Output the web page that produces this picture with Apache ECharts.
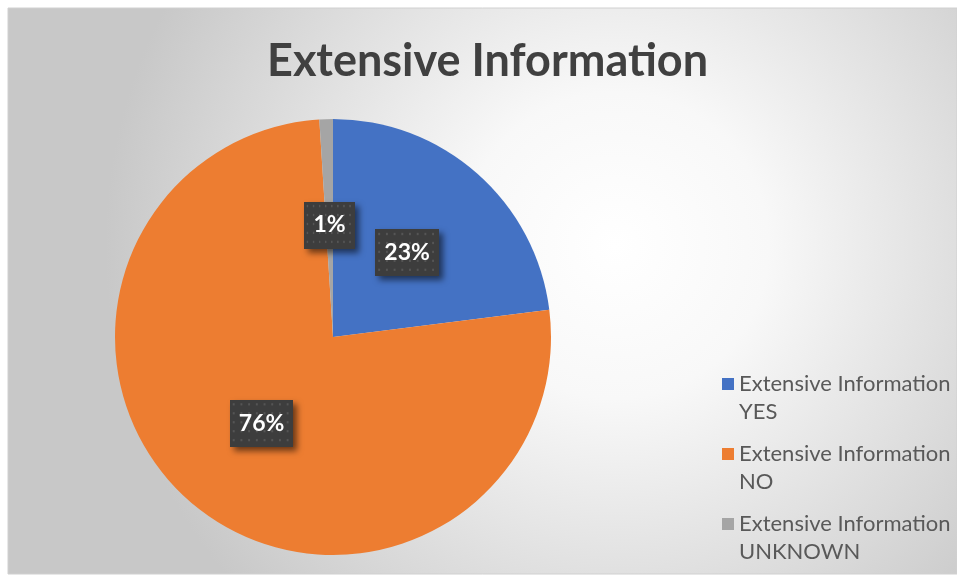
<!DOCTYPE html>
<html>
<head>
<meta charset="utf-8">
<script src="https://cdn.jsdelivr.net/npm/echarts@6/dist/echarts.min.js"></script>
<style>
  html, body { margin: 0; padding: 0; background: #ffffff; }
  #chart { position: absolute; left: 0; top: 0; width: 957px; height: 580px; }
</style>
</head>
<body>
<div id="chart"></div>
<script>
// Survey answers to "Extensive Information" (percent of responses)
const categories = ['Extensive Information YES', 'Extensive Information NO', 'Extensive Information UNKNOWN'];
const values = [23, 76, 1];
const colors = ['#4472C4', '#ED7D31', '#A5A5A5'];

// Dark dotted tile used behind the data labels
function makeLabelTile(w, h) {
  const c = document.createElement('canvas');
  c.width = w; c.height = h;
  const g = c.getContext('2d');
  g.fillStyle = '#3d3d3d';
  g.fillRect(0, 0, w, h);
  g.fillStyle = '#555555';
  for (let y = 3; y < h; y += 8) {
    for (let x = 3; x < w; x += 8) {
      g.fillRect(x, y, 2, 2);
    }
  }
  return c;
}
const tile = makeLabelTile(66, 42);

// Legend marker: a 12px square beside the first of two text lines.
// Tiny corner specks fix the icon box at 12x56 so the square stays at the top.
const legendIcon = 'path://M0,0L0.01,0L0,0.01Z M0,8L12,8L12,20L0,20Z M11.99,55.99L12,55.99L12,56Z';

const chart = echarts.init(document.getElementById('chart'), null, { renderer: 'canvas' });

chart.setOption({
  animation: false,
  graphic: [{
    type: 'rect',
    silent: true,
    z: -10,
    shape: { x: 8, y: 8, width: 949, height: 566 },
    style: {
      fill: new echarts.graphic.RadialGradient(0.64, 0.42, 0.9, [
        { offset: 0, color: '#ffffff' },
        { offset: 0.3, color: '#f8f8f8' },
        { offset: 1, color: '#c8c8c8' }
      ]),
      stroke: '#d0d0d0',
      lineWidth: 1
    }
  }],
  title: {
    text: 'Extensive Information',
    left: 262,
    top: 34,
    textStyle: {
      fontFamily: 'Lato',
      fontWeight: 'bold',
      fontSize: 45,
      color: '#404040'
    }
  },
  legend: {
    orient: 'vertical',
    left: 717,
    top: 365,
    height: 215,
    itemWidth: 12,
    itemHeight: 56,
    itemGap: 14,
    icon: legendIcon,
    formatter: function (name) {
      return name.replace('Extensive Information ', 'Extensive Information\n');
    },
    textStyle: {
      fontFamily: 'Lato',
      fontSize: 22,
      color: '#595959',
      lineHeight: 28
    }
  },
  series: [{
    type: 'pie',
    center: [333, 337],
    radius: 218,
    startAngle: 90,
    clockwise: true,
    color: colors,
    itemStyle: { borderWidth: 0 },
    label: {
      show: true,
      position: 'inside',
      formatter: '{d}%',
      fontFamily: 'Lato',
      fontWeight: 'bold',
      fontSize: 23,
      color: '#ffffff',
      padding: [13, 9, 11, 9],
      backgroundColor: { image: tile },
      shadowColor: 'rgba(0,0,0,0.55)',
      shadowBlur: 6,
      shadowOffsetX: 4,
      shadowOffsetY: 4
    },
    labelLine: { show: false },
    data: categories.map((name, i) => ({ name: name, value: values[i] }))
  }]
});
</script>
</body>
</html>
